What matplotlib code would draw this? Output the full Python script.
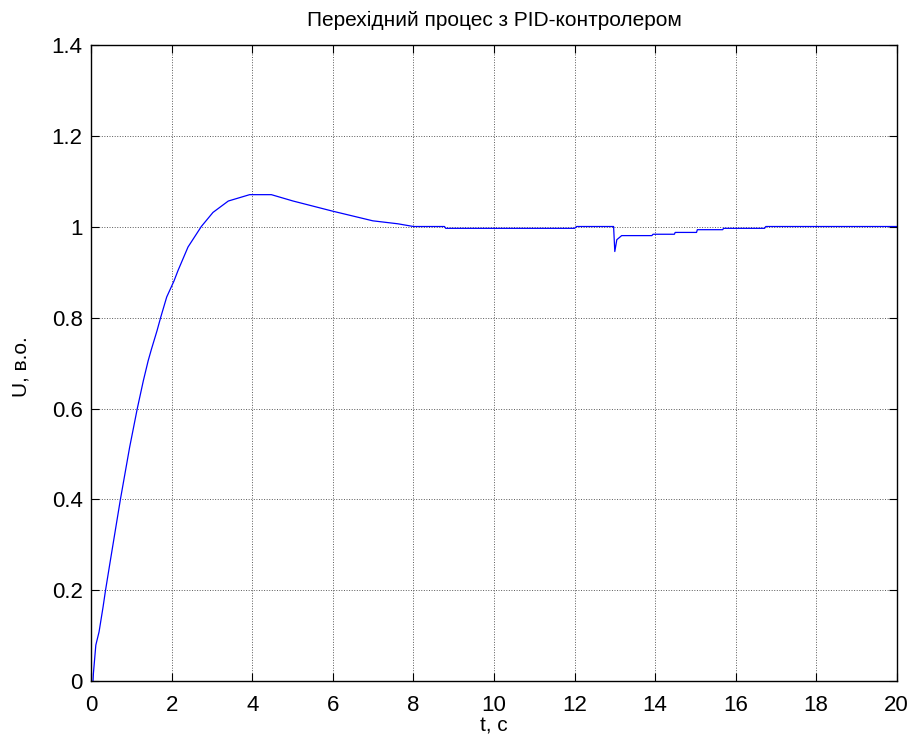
import numpy as np
import matplotlib.pyplot as plt
from matplotlib.ticker import FuncFormatter

plt.rcParams['font.family'] = ['Liberation Sans', 'DejaVu Sans']

# values (time in s, U in p.u.)
t = [0.0, 0.04, 0.05, 0.11, 0.19, 0.29, 0.35, 0.46, 0.72, 0.95, 1.14, 1.29,
     1.41, 1.49, 1.63, 1.72, 1.87, 2.05, 2.15, 2.4, 2.73, 3.02, 3.40, 3.93,
     4.47, 5.01, 5.98, 6.99, 7.61, 8.0, 8.77, 8.8, 12.0, 12.05, 12.97, 13.0,
     13.05, 13.17, 13.92, 13.95, 14.48, 14.5, 15.03, 15.05, 15.68, 15.7,
     16.72, 16.75, 20.0]
u = [0.0, 0.0, 0.018, 0.08, 0.109, 0.164, 0.2, 0.26, 0.40, 0.515, 0.60, 0.661,
     0.705, 0.73, 0.771, 0.80, 0.845, 0.88, 0.903, 0.955, 1.0, 1.031, 1.056,
     1.070, 1.070, 1.056, 1.034, 1.0125, 1.006, 1.0, 1.0, 0.996, 0.996, 1.0,
     1.0, 0.945, 0.971, 0.980, 0.980, 0.983, 0.983, 0.987, 0.987, 0.993,
     0.993, 0.996, 0.996, 1.0, 1.0]

xticks = np.arange(0, 21, 2)
yticks = [0, 0.2, 0.4, 0.6, 0.8, 1.0, 1.2, 1.4]

fig = plt.figure(figsize=(9.14, 7.47), dpi=100)
ax = fig.add_axes([0.100, 0.0877, 0.881, 0.8527])

ax.plot(t, u, color='b', lw=0.9)

ax.set_xlim(0, 20)
ax.set_ylim(0, 1.4)
ax.set_xticks(xticks)
ax.set_yticks(yticks)
ax.yaxis.set_major_formatter(FuncFormatter(lambda v, p: '%g' % v))
ax.tick_params(direction='in', length=6, width=0.8, top=True, right=True,
               labelsize=16)
ax.tick_params(axis='x', pad=9.7)
ax.tick_params(axis='y', pad=6.3)
ax.grid(True, color='0.35', linestyle=':', linewidth=0.7)
for s in ax.spines.values():
    s.set_linewidth(1.0)

ax.set_title('Перехідний процес з PID-контролером', fontsize=15, pad=13)
ax.set_xlabel('t, c', fontsize=15)
ax.set_ylabel('U, в.о.', fontsize=15)
ax.xaxis.set_label_coords(0.5, -0.078)
ax.xaxis.label.set_va('baseline')
ax.yaxis.set_label_coords(-0.0804, 0.494)
ax.yaxis.label.set_va('baseline')

fig.savefig('out.png', dpi=100)
